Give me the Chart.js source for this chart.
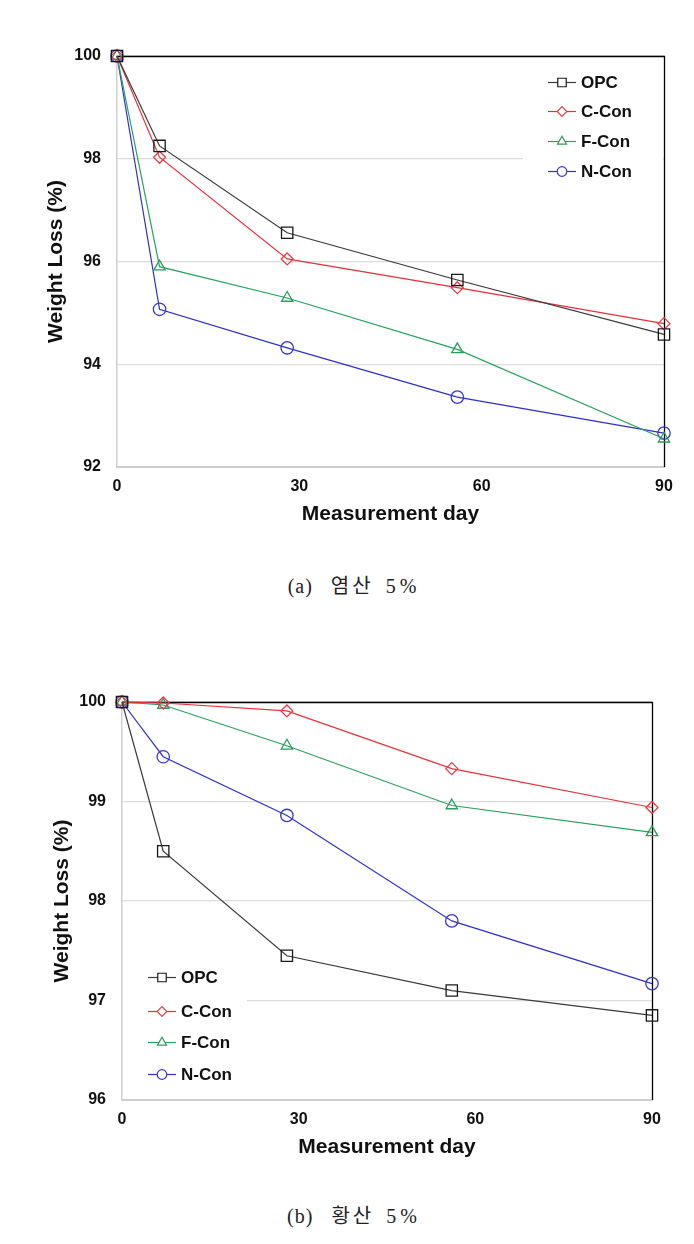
<!DOCTYPE html>
<html><head><meta charset="utf-8">
<script src="https://cdn.jsdelivr.net/npm/chart.js@4.4.1/dist/chart.umd.min.js"></script>
<style>
html,body{margin:0;padding:0;background:#fff;width:694px;height:1244px;overflow:hidden}
.wrap{position:absolute;left:0;width:694px;height:540px}
canvas{display:block}
.cap{position:absolute;left:0;width:694px;text-align:center;font-family:"Liberation Serif","Noto Sans CJK KR",serif;font-size:20px;line-height:24px;color:#222;letter-spacing:1px;padding-left:14px;box-sizing:border-box}
.cap .k{font-family:"Noto Sans CJK KR",sans-serif;font-weight:400;font-size:20px;margin-left:18px;margin-right:12px;letter-spacing:3px}
.cap .n{letter-spacing:4px}
</style></head><body>
<div class="wrap" style="top:0"><canvas id="ca" width="694" height="540"></canvas></div>
<div class="cap" style="top:573px">(a)<span class="k">염산</span><span class="n">5%</span></div>
<div class="wrap" style="top:650px"><canvas id="cb" width="694" height="540"></canvas></div>
<div class="cap" style="top:1203px">(b)<span class="k">황산</span><span class="n">5%</span></div>
<script>
// ---- data ----
const days = [0, 7, 28, 56, 90];
const seriesNames = ['OPC', 'C-Con', 'F-Con', 'N-Con'];
const xTicks = [0, 30, 60, 90];

// (a) HCl 5%
const hclOPC  = [100, 98.25, 96.56, 95.64, 94.58];
const hclCCon = [100, 98.03, 96.05, 95.49, 94.79];
const hclFCon = [100, 95.90, 95.29, 94.29, 92.55];
const hclNCon = [100, 95.07, 94.32, 93.36, 92.66];
const hclYTicks = [92, 94, 96, 98, 100];

// (b) H2SO4 5%
const sulOPC  = [100, 98.50, 97.45, 97.10, 96.85];
const sulCCon = [100, 99.99, 99.91, 99.33, 98.94];
const sulFCon = [100, 99.97, 99.56, 98.96, 98.69];
const sulNCon = [100, 99.45, 98.86, 97.80, 97.17];
const sulYTicks = [96, 97, 98, 99, 100];

// ---- styles ----
const FONT = '"Liberation Sans", Arial, sans-serif';
const styles = [
  {color:'#1a1a1a', line:'#3a3a3a', pointStyle:'rect',     radius:8,   lr:6},
  {color:'#e0404a', line:'#e8303a', pointStyle:'rectRot',  radius:6,   lr:4.8},
  {color:'#2a9d5c', line:'#2aa060', pointStyle:'triangle', radius:6.5, lr:5.2},
  {color:'#3838c8', line:'#2f2fd0', pointStyle:'circle',   radius:6.2, lr:4.8}
];

function drawMarker(ctx, style, r, x, y) {
  ctx.save();
  ctx.strokeStyle = style.color;
  ctx.fillStyle = '#fff';
  ctx.lineWidth = 1.2;
  if (Chart.helpers && Chart.helpers.drawPoint) {
    Chart.helpers.drawPoint(ctx, {pointStyle: style.pointStyle, radius: r, borderWidth: 1.2, rotation: 0}, x, y);
  }
  ctx.restore();
}

const framePlugin = {
  id: 'frameLegend',
  beforeDatasetsDraw(chart, args, opts) {
    const ctx = chart.ctx, a = chart.chartArea;
    ctx.save();
    ctx.fillStyle = '#fff';
    const b = opts.bg;
    ctx.fillRect(b[0], b[1], b[2], b[3]);
    ctx.strokeStyle = '#000';
    ctx.lineWidth = 1.3;
    ctx.beginPath();
    ctx.moveTo(Math.round(a.left), Math.round(a.top) + 0.5);
    ctx.lineTo(Math.round(a.right) + 0.5, Math.round(a.top) + 0.5);
    ctx.lineTo(Math.round(a.right) + 0.5, Math.round(a.bottom));
    ctx.stroke();
    ctx.restore();
  },
  afterDatasetsDraw(chart, args, opts) {
    const ctx = chart.ctx;
    ctx.save();
    chart.data.datasets.forEach((ds, i) => {
      const st = styles[i];
      const y = opts.rows[i];
      ctx.strokeStyle = st.line;
      ctx.lineWidth = 1.2;
      ctx.beginPath();
      ctx.moveTo(opts.x0, y + 0.5);
      ctx.lineTo(opts.x1, y + 0.5);
      ctx.stroke();
      drawMarker(ctx, st, st.lr, (opts.x0 + opts.x1) / 2, y + 0.5);
      ctx.fillStyle = '#111';
      ctx.font = 'bold 17px ' + FONT;
      ctx.textBaseline = 'middle';
      ctx.textAlign = 'left';
      ctx.fillText(ds.label, opts.tx, y + 1);
    });
    ctx.restore();
  }
};

function makeChart(id, series, yTicks, geo) {
  const datasets = series.map((vals, i) => ({
    label: seriesNames[i],
    data: days.map((d, j) => ({x: d, y: vals[j]})),
    borderColor: styles[i].line,
    borderWidth: 1.2,
    pointStyle: styles[i].pointStyle,
    pointRadius: styles[i].radius,
    pointBorderColor: styles[i].color,
    pointBackgroundColor: 'rgba(255,255,255,0)',
    pointBorderWidth: 1.3,
    tension: 0,
    fill: false,
    clip: false
  }));
  return new Chart(document.getElementById(id), {
    type: 'line',
    data: {datasets},
    options: {
      responsive: false,
      animation: false,
      devicePixelRatio: 1,
      layout: {padding: geo.padding},
      plugins: {
        legend: {display: false},
        tooltip: {enabled: false},
        frameLegend: geo.legend
      },
      scales: {
        x: {
          type: 'linear',
          min: xTicks[0], max: xTicks[xTicks.length - 1],
          afterBuildTicks: s => { s.ticks = xTicks.map(v => ({value: v})); },
          afterFit: s => { s.height = geo.xH; },
          grid: {display: false, drawTicks: false},
          border: {display: true, color: '#cfcfcf', width: 2},
          ticks: {padding: geo.xPad, color: '#111', font: {family: FONT, size: 16, weight: 'bold'}, maxRotation: 0},
          title: {display: true, text: 'Measurement day', color: '#111',
                  font: {family: FONT, size: 21, weight: 'bold'}, padding: {top: 0, bottom: 0}}
        },
        y: {
          min: yTicks[0], max: yTicks[yTicks.length - 1],
          afterBuildTicks: s => { s.ticks = yTicks.map(v => ({value: v})); },
          afterFit: s => { s.width = geo.yW; },
          grid: {color: '#dcdcdc', lineWidth: 1.3, drawTicks: false},
          border: {display: true, color: '#cfcfcf', width: 1.5},
          ticks: {padding: 16, color: '#111', font: {family: FONT, size: 16, weight: 'bold'}},
          title: {display: true, text: 'Weight Loss (%)', color: '#111',
                  font: {family: FONT, size: 21, weight: 'bold'}, padding: {top: geo.yTitlePad, bottom: 0}}
        }
      }
    },
    plugins: [framePlugin]
  });
}

makeChart('ca', [hclOPC, hclCCon, hclFCon, hclNCon], hclYTicks, {
  padding: {top: 56, left: 0, right: 30, bottom: 13},
  xH: 60, yW: 117, xPad: 10, yTitlePad: 44,
  legend: {bg: [523, 63, 140, 126], x0: 548, x1: 576, tx: 581, rows: [82, 111, 141, 171]}
});

makeChart('cb', [sulOPC, sulCCon, sulFCon, sulNCon], sulYTicks, {
  padding: {top: 52, left: 0, right: 42, bottom: 30},
  xH: 60, yW: 122, xPad: 10, yTitlePad: 50,
  legend: {bg: [123, 958 - 650, 124, 134], x0: 148, x1: 176, tx: 181, rows: [977 - 650, 1011 - 650, 1042 - 650, 1074 - 650]}
});
</script>
</body></html>
